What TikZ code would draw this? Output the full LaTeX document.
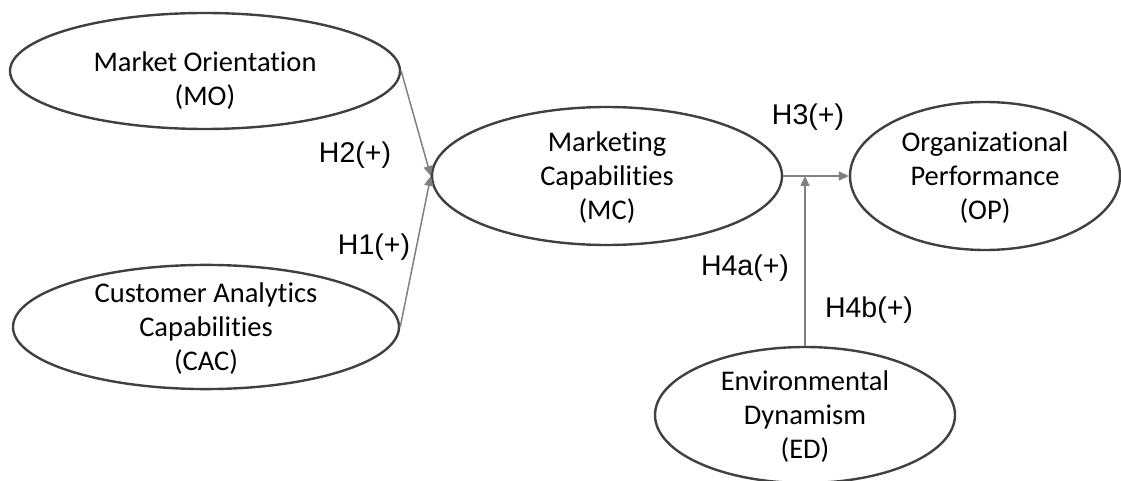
\documentclass[tikz,border=0pt]{standalone}
\usepackage{fontspec}
\setmainfont{Liberation Sans}
\newfontfamily\calibri[Ligatures=CommonOff]{Carlito}
\usetikzlibrary{positioning,calc,shapes.geometric,arrows.meta}
\definecolor{edgecolor}{rgb}{0.25, 0.25, 0.25}
\definecolor{arrowcolor}{rgb}{0.5, 0.5, 0.5}
\tikzset{
    construct/.style={ellipse,draw=edgecolor,line width=2.4pt,align=center,inner sep=0pt,text depth=0pt,font=\calibri\fontsize{28.5}{34}\selectfont},
    hyp/.style={black,font=\fontsize{28.5}{34}\selectfont},
    path/.style={arrowcolor,line width=1.5pt,->}
}

\begin{document}
\begin{tikzpicture}[x=1pt, y=-1pt, >={Triangle[length=10pt,width=9pt]}]
    \useasboundingbox (0,0) rectangle (1121,481);

    \node[construct,minimum width=390pt,minimum height=116pt,text height=70pt] at (205,71) (MO) {Market Orientation\\(MO)};
    \node[construct,minimum width=386pt,minimum height=124pt] at (206,327) (CAC) {Customer Analytics\\Capabilities\\(CAC)};
    \node[construct,minimum width=350pt,minimum height=138pt] at (607,176) (MC) {Marketing\\Capabilities\\(MC)};
    \node[construct,minimum width=270pt,minimum height=148pt] at (985,176) (OP) {Organizational\\Performance\\(OP)};
    \node[construct,minimum width=300pt,minimum height=136pt] at (805,415) (ED) {Environmental\\Dynamism\\(ED)};

    \coordinate (Junction) at (ED.north |- MC.east);

    \draw[path] (MO.east) -- (MC.west);
    \draw[path] (CAC.east) -- (MC.west);
    \draw[path] (MC.east) -- (OP.west);
    \draw[path] (ED.north) -- (Junction);

    \node[hyp] at (355,155) (HTwo) {H2(+)};
    \node[hyp] at (374,247) (HOne) {H1(+)};
    \node[hyp] at (808,117) (HThree) {H3(+)};
    \node[hyp] at (745,268) (HFourA) {H4a(+)};
    \node[hyp] at (869,310) (HFourB) {H4b(+)};
    % \node[hyp] at (Junction) {};
\end{tikzpicture}
\end{document}
